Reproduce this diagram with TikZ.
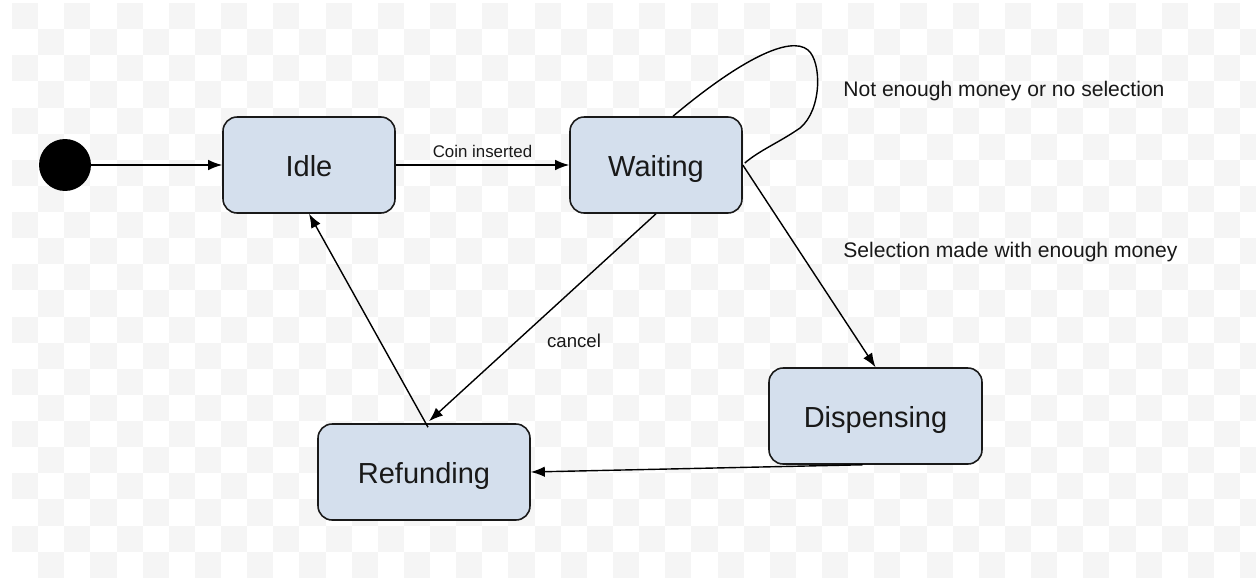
\documentclass[tikz,border=0pt]{standalone}
\usepackage{fontspec}
\setmainfont{Liberation Sans}
\usetikzlibrary{calc,arrows.meta}
\definecolor{statefill}{RGB}{212,223,237}
\definecolor{checker}{RGB}{245,245,245}
\definecolor{ink}{RGB}{25,25,25}
\tikzset{
  statebox/.style={draw=ink, line width=0.9pt, fill=statefill, rounded corners=8pt,
    minimum width=#1, minimum height=1.92cm, inner sep=0pt, text=ink,
    text height=16.6pt, text depth=4pt,
    font=\fontsize{16.5}{20}\selectfont},
  statebox/.default=3.44cm,
  trans/.style={draw=black, line width=0.8pt, -{Latex[length=8pt,width=6pt]}},
  plain/.style={draw=black, line width=0.8pt},
  lbl/.style={text=ink, inner sep=0pt, font=\fontsize{12}{14}\selectfont},
}
\begin{document}
\begin{tikzpicture}[x=0.02cm,y=-0.02cm]
\useasboundingbox (0,0) rectangle (1256,578);
\fill[white] (0,0) rectangle (1256,578);
\begin{scope}
\clip (12,3) rectangle (1256,578);
\foreach \i in {0,...,47}{
  \foreach \j in {0,...,21}{
    \pgfmathtruncatemacro\p{mod(\i+\j,2)}
    \ifnum\p=0
      \fill[checker] ({12+26.13*\i},{3+26.13*\j}) rectangle ++(26.13,26.13);
    \fi
  }
}
\end{scope}

\node[circle, fill=black, minimum size=1.04cm, inner sep=0pt] (start) at (65,165) {};
\node[statebox] (idle) at (309,165) {Idle};
\node[statebox] (waiting) at (656,165) {Waiting};
\node[statebox=4.26cm] (disp) at (875.5,416) {Dispensing};
\node[statebox=4.24cm] (refund) at (424,472) {Refunding};

\coordinate (loopA) at ($(waiting.north)+(17,0)$);
\coordinate (loopB) at ($(waiting.east)+(2,-2)$);
\coordinate (rtop) at ($(refund.north)+(5,-2)$);
\coordinate (rbase) at ($(refund.north)+(4,4)$);
\coordinate (dsrc) at ($(disp.south)+(-13,0)$);

\draw[trans] (start) -- (idle.west);
\draw[trans] (idle.east) -- node[lbl, anchor=base, yshift=4.5pt, font=\fontsize{9.6}{11}\selectfont] (coinlbl) {Coin inserted} (waiting.west);
\draw[plain] (loopA) .. controls (740,60) and (790,35) .. (808,50)
  .. controls (822,62) and (822,110) .. (800,128)
  .. controls (780,142) and (760,150) .. (loopB);
\draw[trans] (waiting.east) -- (disp.north);
\draw[trans] (waiting.south) -- (rtop);
\draw[trans] (rbase) -- (idle.south);
\draw[trans] (dsrc) -- (refund.east);

\node[lbl, anchor=base west] (lblnot) at (843,96) {Not enough money or no selection};
\node[lbl, anchor=base west] (lblsel) at (843,257) {Selection made with enough money};
\node[lbl, anchor=base, font=\fontsize{10.6}{12}\selectfont] (lblcancel) at (574,347) {cancel};
\end{tikzpicture}
\end{document}
